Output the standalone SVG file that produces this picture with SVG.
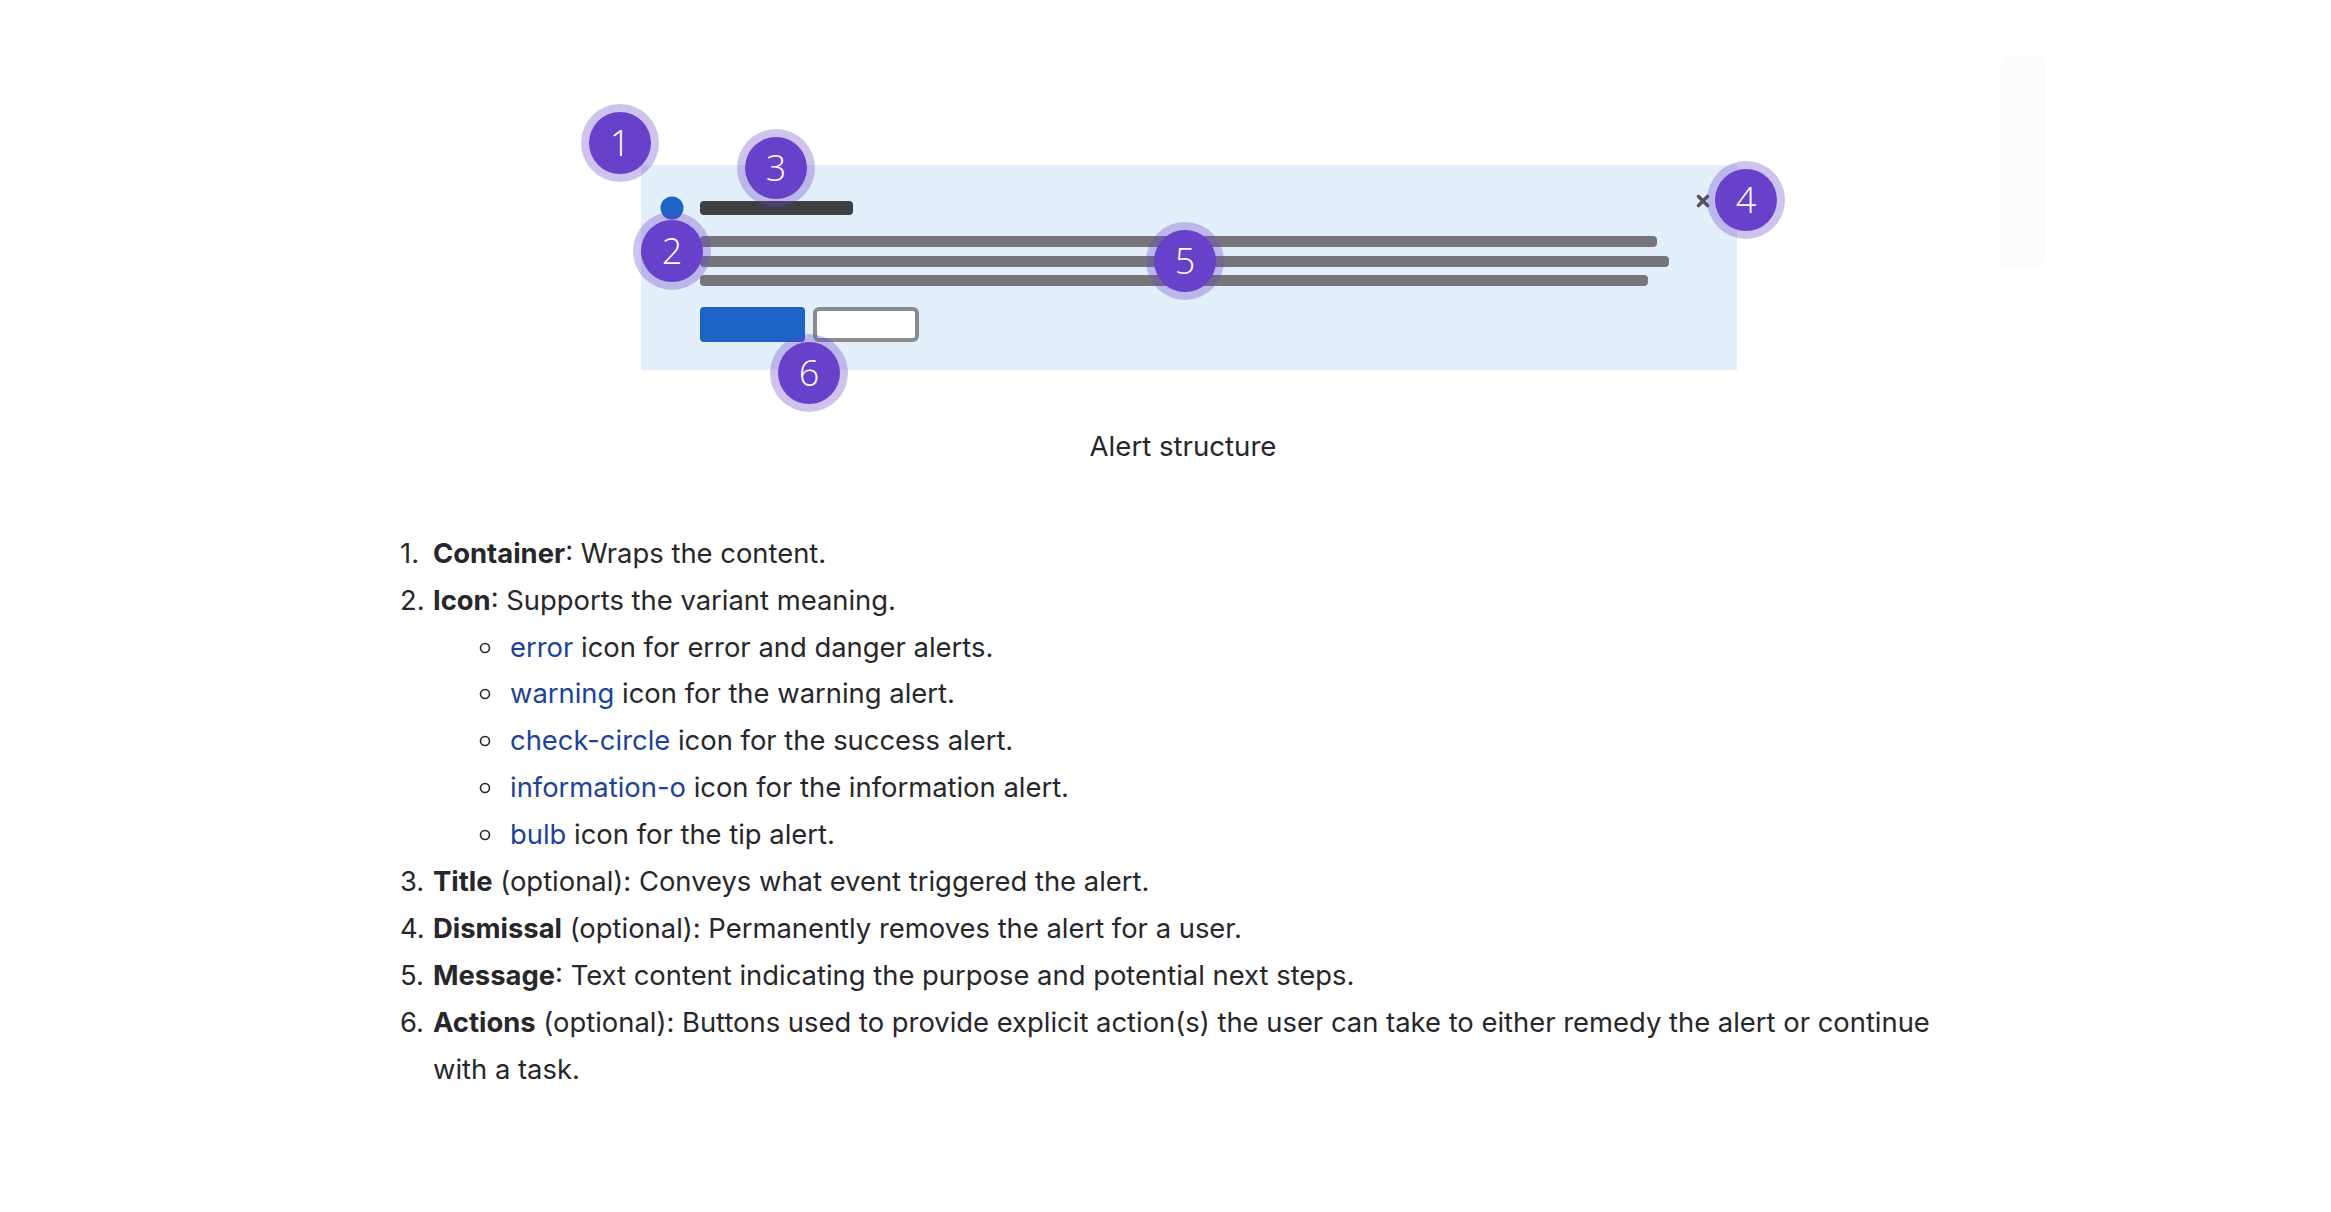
<svg xmlns="http://www.w3.org/2000/svg" width="2331" height="1212" viewBox="0 0 2331 1212">
<style>
  .halo { fill: #6741c9; fill-opacity: 0.32; }
  .disk { fill: #6741c9; }
  .num { font-family: "Open Sans", Lato, sans-serif; font-size: 36px; font-weight: 300; fill: #ffffff; text-anchor: middle; }
  .txt { font-family: Inter, "Liberation Sans", sans-serif; font-size: 27.4px; fill: #27272b; }
  .b { font-weight: 700; }
  .lnk { fill: #1e4394; }
  .bul { fill: none; stroke: #27272b; stroke-width: 1.6; }
  .msg { fill: #76767a; }
</style>
<rect width="2331" height="1212" fill="#ffffff"/>
<rect x="2000" y="55" width="46" height="215" rx="12" fill="#f9f9f9" fill-opacity="0.5"/>

<g id="alert">
  <rect id="container" x="641" y="165" width="1096" height="205" fill="#e3effb"/>
  <circle id="icon" cx="672" cy="208" r="11.5" fill="#1e63c6"/>
  <rect id="title" x="700" y="201" width="153" height="14" rx="4" fill="#3e3e43"/>
  <g id="message">
    <rect class="msg" x="700" y="236" width="957" height="11" rx="4"/>
    <rect class="msg" x="700" y="256" width="969" height="11" rx="4"/>
    <rect class="msg" x="700" y="275" width="948" height="11" rx="4"/>
  </g>
  <g id="actions">
    <rect x="700" y="307" width="105" height="35" rx="4" fill="#1d62c4"/>
    <rect x="815" y="309" width="102" height="31" rx="4" fill="#ffffff" stroke="#8b8b8f" stroke-width="4"/>
  </g>
  <g id="dismiss" stroke="#55555a" stroke-width="3.6" stroke-linecap="round">
    <line x1="1698.5" y1="196.5" x2="1707.5" y2="205.5"/>
    <line x1="1707.5" y1="196.5" x2="1698.5" y2="205.5"/>
  </g>
</g>

<g id="markers">
  <g id="m1"><circle class="halo" cx="620" cy="143" r="39"/><circle class="disk" cx="620" cy="143" r="31"/><text class="num" x="620" y="156">1</text></g>
  <g id="m2"><circle class="halo" cx="672" cy="251" r="39"/><circle class="disk" cx="672" cy="251" r="31"/><text class="num" x="672" y="264">2</text></g>
  <g id="m3"><circle class="halo" cx="776" cy="168" r="39"/><circle class="disk" cx="776" cy="168" r="31"/><text class="num" x="776" y="181">3</text></g>
  <g id="m4"><circle class="halo" cx="1746" cy="200" r="39"/><circle class="disk" cx="1746" cy="200" r="31"/><text class="num" x="1746" y="213">4</text></g>
  <g id="m5"><circle class="halo" cx="1185" cy="261" r="39"/><circle class="disk" cx="1185" cy="261" r="31"/><text class="num" x="1185" y="274">5</text></g>
  <g id="m6"><circle class="halo" cx="809" cy="373" r="39"/><circle class="disk" cx="809" cy="373" r="31"/><text class="num" x="809" y="386">6</text></g>
</g>

<text id="caption" x="1183" y="456" text-anchor="middle" font-family="Inter, 'Liberation Sans', sans-serif" font-size="27.6" fill="#27272b">Alert structure</text>

<g id="list">
  <text class="txt" x="400" y="563">1.</text>
  <text class="txt" x="433" y="563"><tspan class="b">Container</tspan>: Wraps the content.</text>
  <text class="txt" x="400" y="610">2.</text>
  <text class="txt" x="433" y="610"><tspan class="b">Icon</tspan>: Supports the variant meaning.</text>
  <circle class="bul" cx="485" cy="648" r="4.5"/>
  <text class="txt" x="510" y="657"><tspan class="lnk">error</tspan> icon for error and danger alerts.</text>
  <circle class="bul" cx="485" cy="694" r="4.5"/>
  <text class="txt" x="510" y="703"><tspan class="lnk">warning</tspan> icon for the warning alert.</text>
  <circle class="bul" cx="485" cy="741" r="4.5"/>
  <text class="txt" x="510" y="750"><tspan class="lnk">check-circle</tspan> icon for the success alert.</text>
  <circle class="bul" cx="485" cy="788" r="4.5"/>
  <text class="txt" x="510" y="797"><tspan class="lnk">information-o</tspan> icon for the information alert.</text>
  <circle class="bul" cx="485" cy="835" r="4.5"/>
  <text class="txt" x="510" y="844"><tspan class="lnk">bulb</tspan> icon for the tip alert.</text>
  <text class="txt" x="400" y="891">3.</text>
  <text class="txt" x="433" y="891"><tspan class="b">Title</tspan> (optional): Conveys what event triggered the alert.</text>
  <text class="txt" x="400" y="938">4.</text>
  <text class="txt" x="433" y="938"><tspan class="b">Dismissal</tspan> (optional): Permanently removes the alert for a user.</text>
  <text class="txt" x="400" y="985">5.</text>
  <text class="txt" x="433" y="985"><tspan class="b">Message</tspan>: Text content indicating the purpose and potential next steps.</text>
  <text class="txt" x="400" y="1032">6.</text>
  <text class="txt" x="433" y="1032"><tspan class="b">Actions</tspan> (optional): Buttons used to provide explicit action(s) the user can take to either remedy the alert or continue</text>
  <text class="txt" x="433" y="1079">with a task.</text>
</g>
</svg>
